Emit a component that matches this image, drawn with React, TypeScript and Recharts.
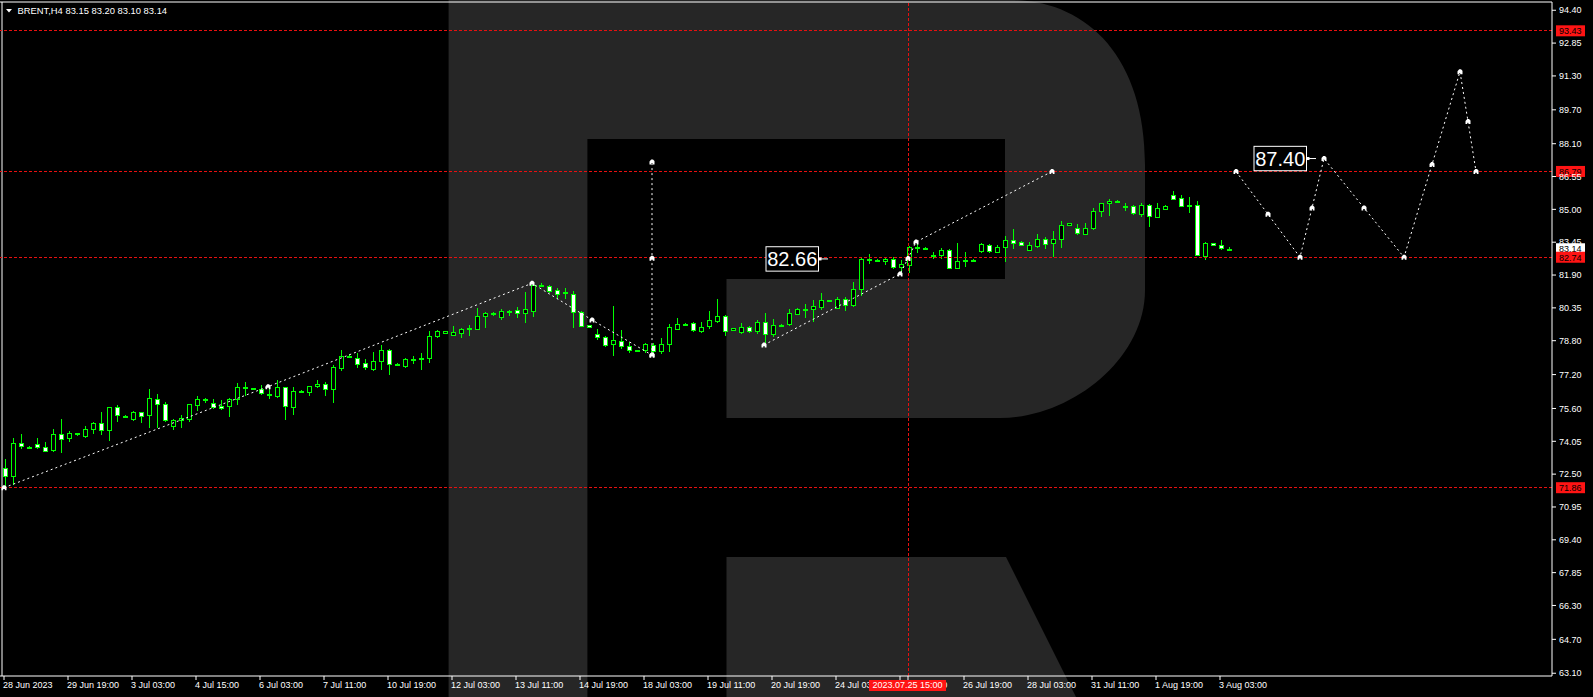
import React from 'react';
import { ComposedChart, Bar, Line, XAxis, YAxis, ReferenceLine, ReferenceDot } from 'recharts';

const FONT = "'Liberation Sans', Arial, sans-serif";
const CANDLE = '#00ff00';
const RED_LINE = '#e81010';
const RED_TAG = '#ff1414';
const LOGO = '#262626';

// ---- candle data (BRENT H4, 28 Jun 2023 - 3 Aug 2023) ----
const openP = [
  72.77, 72.38, 73.96, 73.8, 73.91, 73.78, 73.61, 74.4, 74.18, 74.43,
  74.3, 74.63, 74.9, 74.55, 75.65, 75.25, 75.12, 75.43, 75.26, 76.03,
  75.8, 74.79, 75.03, 75.1, 75.76, 75.97, 75.84, 75.74, 75.69, 76.05,
  76.6, 76.56, 76.5, 76.27, 76.2, 76.63, 75.69, 76.44, 76.36, 76.63,
  76.74, 76.5, 77.54, 78.1, 78.0, 77.73, 77.46, 77.83, 78.36, 77.7,
  77.61, 77.95, 77.98, 78.0, 78.99, 79.15, 79.09, 79.18, 79.38, 79.37,
  79.94, 80.09, 79.94, 80.21, 80.23, 80.08, 80.22, 81.45, 81.38, 81.18,
  81.08, 80.99, 80.15, 79.52, 79.12, 78.99, 78.63, 78.77, 78.53, 78.36,
  78.36, 78.61, 78.33, 78.61, 79.35, 79.6, 79.62, 79.23, 79.46, 79.75,
  79.97, 79.27, 79.18, 79.43, 79.23, 79.67, 79.1, 79.55, 79.59, 80.06,
  80.31, 80.31, 80.41, 80.7, 80.33, 80.75, 80.45, 81.22, 82.65, 82.63,
  82.56, 82.64, 82.26, 82.37, 83.2, 83.19, 82.85, 82.86, 83.08, 82.22,
  82.6, 82.62, 83.05, 83.3, 83.0, 83.21, 83.55, 83.46, 83.1, 83.29,
  83.6, 83.43, 83.59, 84.25, 84.11, 83.82, 84.11, 84.89, 85.29, 85.41,
  85.16, 85.14, 84.8, 85.19, 84.62, 85.0, 85.66, 85.52, 85.2, 85.19,
  82.8, 83.4, 83.3, 83.15,
];
const highP = [
  73.2, 74.22, 74.4, 73.85, 74.22, 74.03, 74.63, 75.1, 74.54, 74.46,
  74.77, 74.96, 75.43, 75.66, 75.77, 75.29, 75.5, 75.45, 76.52, 76.28,
  75.92, 75.1, 75.28, 75.81, 76.19, 76.11, 76.05, 76.0, 76.08, 76.79,
  76.87, 76.58, 76.69, 76.5, 76.95, 76.63, 76.63, 76.46, 76.67, 76.95,
  76.85, 77.64, 78.36, 78.17, 78.2, 77.94, 78.27, 78.6, 78.41, 77.76,
  78.0, 78.08, 78.24, 79.26, 79.31, 79.28, 79.5, 79.38, 79.54, 80.35,
  80.14, 80.17, 80.3, 80.25, 80.38, 81.08, 81.54, 81.51, 81.44, 81.27,
  81.29, 81.16, 80.19, 79.55, 79.34, 79.0, 80.44, 79.3, 78.75, 78.38,
  78.71, 78.68, 78.91, 79.59, 79.87, 79.62, 79.68, 79.68, 80.19, 80.75,
  80.01, 79.41, 79.62, 79.49, 79.78, 80.09, 79.81, 79.6, 80.3, 80.33,
  80.53, 80.72, 81.04, 80.74, 80.85, 80.88, 81.57, 82.72, 82.88, 82.66,
  82.69, 82.73, 82.61, 83.27, 83.4, 83.21, 82.99, 83.18, 83.11, 83.43,
  82.99, 82.64, 83.43, 83.37, 83.32, 83.74, 84.07, 83.52, 83.48, 83.82,
  83.7, 83.98, 84.45, 84.37, 84.31, 84.34, 85.08, 85.3, 85.49, 85.44,
  85.3, 85.21, 85.3, 85.25, 85.29, 85.22, 85.87, 85.68, 85.59, 85.38,
  83.48, 83.43, 83.55, 83.2,
];
const lowP = [
  71.9, 72.0, 73.69, 73.75, 73.69, 73.55, 73.55, 73.51, 74.03, 74.3,
  74.22, 74.41, 74.35, 74.08, 74.96, 75.15, 75.03, 74.9, 74.69, 74.69,
  74.96, 74.58, 74.69, 74.98, 75.5, 75.88, 75.58, 75.53, 75.21, 75.76,
  76.21, 76.5, 76.24, 76.06, 76.11, 75.05, 75.29, 76.4, 76.2, 76.58,
  76.2, 75.87, 77.37, 78.05, 77.53, 77.42, 77.37, 77.42, 77.18, 77.61,
  77.5, 77.7, 77.42, 77.76, 78.91, 79.13, 79.02, 78.94, 79.02, 79.31,
  79.42, 79.97, 79.78, 79.97, 79.89, 79.65, 79.94, 81.35, 81.07, 80.75,
  80.77, 79.42, 79.5, 79.4, 78.83, 78.52, 78.09, 78.42, 78.23, 78.28,
  78.23, 78.05, 78.19, 78.28, 79.3, 79.52, 79.21, 79.18, 79.35, 79.62,
  79.02, 79.25, 79.12, 79.18, 79.12, 78.67, 78.96, 79.47, 79.51, 80.01,
  79.86, 79.7, 80.25, 80.64, 80.3, 80.22, 80.39, 80.92, 82.42, 82.58,
  82.37, 82.2, 82.01, 81.98, 82.92, 83.14, 82.67, 82.64, 82.17, 82.19,
  82.3, 82.58, 82.96, 82.92, 82.92, 82.53, 83.15, 83.3, 83.04, 83.19,
  83.13, 82.74, 83.19, 84.24, 83.79, 83.79, 84.03, 84.66, 84.7, 85.36,
  84.94, 84.72, 84.66, 84.18, 84.58, 84.97, 85.44, 85.1, 84.83, 82.8,
  82.61, 83.26, 83.07, 83.1,
];
const closeP = [
  72.38, 73.96, 73.8, 73.78, 73.77, 73.61, 74.38, 74.18, 74.43, 74.36,
  74.63, 74.9, 74.55, 75.65, 75.26, 75.21, 75.43, 75.26, 76.08, 75.78,
  75.03, 75.06, 75.14, 75.81, 76.05, 76.03, 75.64, 75.66, 76.03, 76.6,
  76.58, 76.53, 76.32, 76.24, 76.63, 75.73, 76.43, 76.42, 76.66, 76.74,
  76.5, 77.54, 78.09, 78.08, 77.73, 77.54, 77.83, 78.36, 77.69, 77.68,
  77.94, 77.93, 77.96, 79.02, 79.24, 79.26, 79.21, 79.35, 79.36, 79.97,
  80.09, 80.07, 80.2, 80.19, 80.09, 80.28, 81.43, 81.43, 81.16, 81.0,
  81.06, 80.12, 79.51, 79.42, 78.99, 78.63, 78.82, 78.52, 78.33, 78.34,
  78.64, 78.33, 78.64, 79.43, 79.59, 79.58, 79.27, 79.43, 79.76, 79.97,
  79.27, 79.38, 79.43, 79.23, 79.67, 79.1, 79.53, 79.53, 80.09, 80.28,
  80.29, 80.44, 80.72, 80.68, 80.75, 80.45, 81.22, 82.64, 82.63, 82.61,
  82.64, 82.26, 82.42, 83.21, 83.18, 83.17, 82.83, 83.08, 82.22, 82.56,
  82.58, 82.6, 83.37, 83.0, 83.22, 83.56, 83.43, 83.33, 83.32, 83.6,
  83.38, 83.6, 84.26, 84.36, 83.87, 84.11, 84.92, 85.29, 85.38, 85.39,
  85.12, 84.8, 85.21, 84.67, 85.05, 85.16, 85.48, 85.14, 85.18, 82.83,
  83.4, 83.29, 83.15, 83.14,
];

// total bar slots visible on the chart (history + forecast space)
const SLOT_COUNT = 194;

// ---- axis ticks ----
const xTickIdx = [0, 8, 16, 24, 32, 40, 48, 56, 64, 72, 80, 88, 96, 104, 112, 120, 128, 136, 144, 152];
const xTickLabels = [
  '28 Jun 2023', '29 Jun 19:00', '3 Jul 03:00', '4 Jul 15:00', '6 Jul 03:00', '7 Jul 11:00',
  '10 Jul 19:00', '12 Jul 03:00', '13 Jul 11:00', '14 Jul 19:00', '18 Jul 03:00', '19 Jul 11:00',
  '20 Jul 19:00', '24 Jul 03:00', '25 Jul 11:00', '26 Jul 19:00', '28 Jul 03:00', '31 Jul 11:00',
  '1 Aug 19:00', '3 Aug 03:00',
];
const yTicks = [
  94.4, 92.85, 91.3, 89.7, 88.1, 86.55, 85.0, 83.45, 81.9, 80.35, 78.8,
  77.2, 75.6, 74.05, 72.5, 70.95, 69.4, 67.85, 66.3, 64.7, 63.1,
];
const yDomain = [62.97, 94.79];
const xDomain = [-0.5, 193.5];

// ---- analysis overlays ----
const zigzag1 = [
  { x: 0, p: 71.86 }, { x: 33, p: 76.63 }, { x: 66, p: 81.51 }, { x: 73.5, p: 79.78 }, { x: 81, p: 78.12 },
];
const verticalLeg = [
  { x: 81, p: 78.12 }, { x: 81, p: 82.69 }, { x: 81, p: 87.24 },
];
const zigzag2 = [
  { x: 95, p: 78.6 }, { x: 112, p: 81.95 }, { x: 113, p: 82.68 }, { x: 114, p: 83.46 }, { x: 131, p: 86.79 },
];
const forecast = [
  { x: 154, p: 86.79 }, { x: 158, p: 84.77 }, { x: 162, p: 82.74 }, { x: 163.5, p: 85.07 },
  { x: 165, p: 87.4 }, { x: 170, p: 85.07 }, { x: 175, p: 82.74 }, { x: 178.5, p: 87.12 },
  { x: 182, p: 91.5 }, { x: 183, p: 89.15 }, { x: 184, p: 86.79 },
];
const levelLines = [93.43, 86.79, 82.74, 71.86];
const currentPrice = 83.14;
const markerBar = 113;
const markerTimeLabel = '2023.07.25 15:00';
const targetTags = [
  { x: 103, p: 82.66, text: '82.66' },
  { x: 164, p: 87.4, text: '87.40' },
];
const titleText = 'BRENT,H4  83.15 83.20 83.10 83.14';

// the marker bar is listed last so its tag is painted over the date labels
const axisTicks = [...xTickIdx, markerBar];

const rows = Array.from({ length: SLOT_COUNT }, (_, i) =>
  i < openP.length ? { i, o: openP[i], h: highP[i], l: lowP[i], c: closeP[i] } : { i }
);

const Candle = (props: any) => {
  const { x, y, width, height, payload } = props;
  if (!payload || payload.h == null) return null;
  const top = Math.min(y, y + height);
  const hh = Math.abs(height);
  const range = payload.h - payload.l;
  const yOf = (p: number) => (range > 0 ? top + ((payload.h - p) / range) * hh : top);
  const cx = Math.round(x + width / 2);
  const yO = yOf(payload.o);
  const yC = yOf(payload.c);
  const bull = payload.c >= payload.o;
  const bt = Math.round(Math.min(yO, yC));
  const bh = Math.max(1, Math.round(Math.abs(yO - yC)));
  return (
    <g shapeRendering="crispEdges">
      <line x1={cx} x2={cx} y1={top} y2={top + hh} stroke={CANDLE} strokeWidth={1} />
      <rect x={cx - 2} y={bt} width={4} height={bh} fill={bull ? '#000' : '#fff'} stroke={CANDLE} strokeWidth={1} />
    </g>
  );
};

const Marker = (props: any) => {
  const { cx, cy, index } = props;
  if (cx == null || cy == null) return <g key={`m${index}`} />;
  const d = `M${cx - 2.5},${cy + 2.5}V${cy - 0.5}L${cx - 0.8},${cy - 2.5}H${cx + 1}L${cx + 2.5},${cy - 1}V${cy + 2.5}H${cx + 0.8}V${cy + 1.2}H${cx - 0.8}V${cy + 2.5}Z`;
  return <path key={`m${index}`} d={d} fill="#fff" />;
};

const XTick = (props: any) => {
  const { x, y, payload } = props;
  if (payload.value === markerBar) {
    return (
      <g>
        <rect x={x - 39} y={y - 2} width={77} height={11} fill={RED_TAG} />
        <text x={x - 0.5} y={y} dy="0.71em" fill="#fff" fontSize={9} fontFamily={FONT} textAnchor="middle">
          {markerTimeLabel}
        </text>
      </g>
    );
  }
  const k = xTickIdx.indexOf(payload.value);
  return (
    <text x={x - 1} y={y} dy="0.71em" fill="#fff" fontSize={9} fontFamily={FONT} textAnchor="start">
      {k >= 0 ? xTickLabels[k] : ''}
    </text>
  );
};

const priceTag = (value: number, bg: string, fg: string) => (props: any) => {
  const vb = props.viewBox || {};
  const x = (vb.x || 0) + (vb.width || 0);
  const y = vb.y || 0;
  return (
    <g>
      <rect x={x + 4} y={y - 5.5} width={29} height={11} fill={bg} />
      <text x={x + 7} y={y + 3.3} fill={fg} fontSize={9} fontFamily={FONT}>
        {value.toFixed(2)}
      </text>
    </g>
  );
};

const TargetTag = (props: any) => {
  const { cx, cy, text } = props;
  if (cx == null || cy == null) return null;
  const right = cx - 9.5;
  const w = 52.5;
  return (
    <g>
      <line x1={right} x2={cx} y1={cy} y2={cy} stroke="#fff" strokeWidth={1} />
      <rect x={right} y={cy - 1.5} width={3} height={3} fill="#fff" />
      <rect x={right - w} y={cy - 12.2} width={w} height={24.4} fill="#000" stroke="#fff" strokeWidth={1} />
      <text x={right - w / 2} y={cy + 7.3} fill="#fff" fontSize={20} fontFamily={FONT} textAnchor="middle">
        {text}
      </text>
    </g>
  );
};

const Logo = () => (
  <svg width={1593} height={697} style={{ position: 'absolute', left: 0, top: 0 }}>
    <g fill={LOGO}>
      <rect x={448.6} y={0} width={138.8} height={697} />
      <path d="M587,0 H1010 C1085,0 1145,55 1145,165 V290 C1145,360 1070,418 1000,418 H726.5 V279 H1005 V139 H587 Z" />
      <path d="M726.5,557 H1006 L1076,697 H726.5 Z" />
    </g>
    <polygon points="6,9 12,9 9,12.5" fill="#fff" />
    <text x={17.5} y={14.2} fill="#fff" fontSize={9.4} fontFamily={FONT}>
      {titleText}
    </text>
  </svg>
);

const dotted = { stroke: '#fff', strokeWidth: 1, strokeDasharray: '2 3' };

export default function App() {
  return (
    <div style={{ position: 'absolute', left: 0, top: 0, width: 1593, height: 697, background: '#000', overflow: 'hidden' }}>
      <Logo />
      <div style={{ position: 'absolute', left: 0, top: 0 }}>
        <ComposedChart width={1593} height={697} data={rows} margin={{ top: 2, right: 0, bottom: 0, left: 0 }}>
          <XAxis
            xAxisId="num"
            dataKey="x"
            type="number"
            domain={xDomain}
            ticks={axisTicks}
            interval={0}
            height={21}
            tickSize={4}
            tickMargin={2}
            axisLine={{ stroke: '#fff' }}
            tickLine={{ stroke: '#fff' }}
            tick={XTick}
            allowDecimals
          />
          <XAxis xAxisId="cat" dataKey="i" type="category" hide height={0} />
          <YAxis
            yAxisId="p"
            orientation="right"
            type="number"
            domain={yDomain}
            ticks={yTicks}
            interval={0}
            width={41}
            tickSize={4}
            tickMargin={3}
            axisLine={{ stroke: '#fff' }}
            tickLine={{ stroke: '#fff' }}
            tick={{ fill: '#fff', fontSize: 9, fontFamily: FONT }}
            tickFormatter={(v: number) => v.toFixed(2)}
          />
          {/* chart frame: top and left edges */}
          <ReferenceLine xAxisId="num" yAxisId="p" y={yDomain[1]} stroke="#fff" strokeWidth={1} />
          <ReferenceLine xAxisId="num" yAxisId="p" x={-0.25} stroke="#fff" strokeWidth={1} />

          {levelLines.map((lv) => (
            <ReferenceLine
              key={`lv${lv}`}
              xAxisId="num"
              yAxisId="p"
              y={lv}
              stroke={RED_LINE}
              strokeWidth={1}
              strokeDasharray="3 2"
              shapeRendering="crispEdges"
            />
          ))}
          <ReferenceLine
            xAxisId="num"
            yAxisId="p"
            x={markerBar}
            stroke={RED_LINE}
            strokeWidth={1}
            strokeDasharray="3 2"
            shapeRendering="crispEdges"
          />

          <Bar
            xAxisId="cat"
            yAxisId="p"
            dataKey={(d: any) => (d.h != null ? [d.l, d.h] : null)}
            barSize={5}
            shape={(p: any) => <Candle {...p} />}
            isAnimationActive={false}
          />

          {[zigzag1, verticalLeg, zigzag2, forecast].map((seg, k) => (
            <Line
              key={`seg${k}`}
              xAxisId="num"
              yAxisId="p"
              data={seg}
              dataKey="p"
              type="linear"
              {...dotted}
              dot={Marker}
              activeDot={false}
              isAnimationActive={false}
            />
          ))}

          {targetTags.map((t) => (
            <ReferenceDot
              key={t.text}
              xAxisId="num"
              yAxisId="p"
              x={t.x}
              y={t.p}
              ifOverflow="visible"
              shape={(p: any) => <TargetTag {...p} text={t.text} />}
            />
          ))}

          {/* price tags on the right scale */}
          <ReferenceLine
            xAxisId="num"
            yAxisId="p"
            y={currentPrice}
            stroke="none"
            label={priceTag(currentPrice, '#fff', '#000')}
          />
          {levelLines.map((lv) => (
            <ReferenceLine
              key={`tag${lv}`}
              xAxisId="num"
              yAxisId="p"
              y={lv}
              stroke="none"
              label={priceTag(lv, RED_TAG, '#000')}
            />
          ))}
        </ComposedChart>
      </div>
    </div>
  );
}
